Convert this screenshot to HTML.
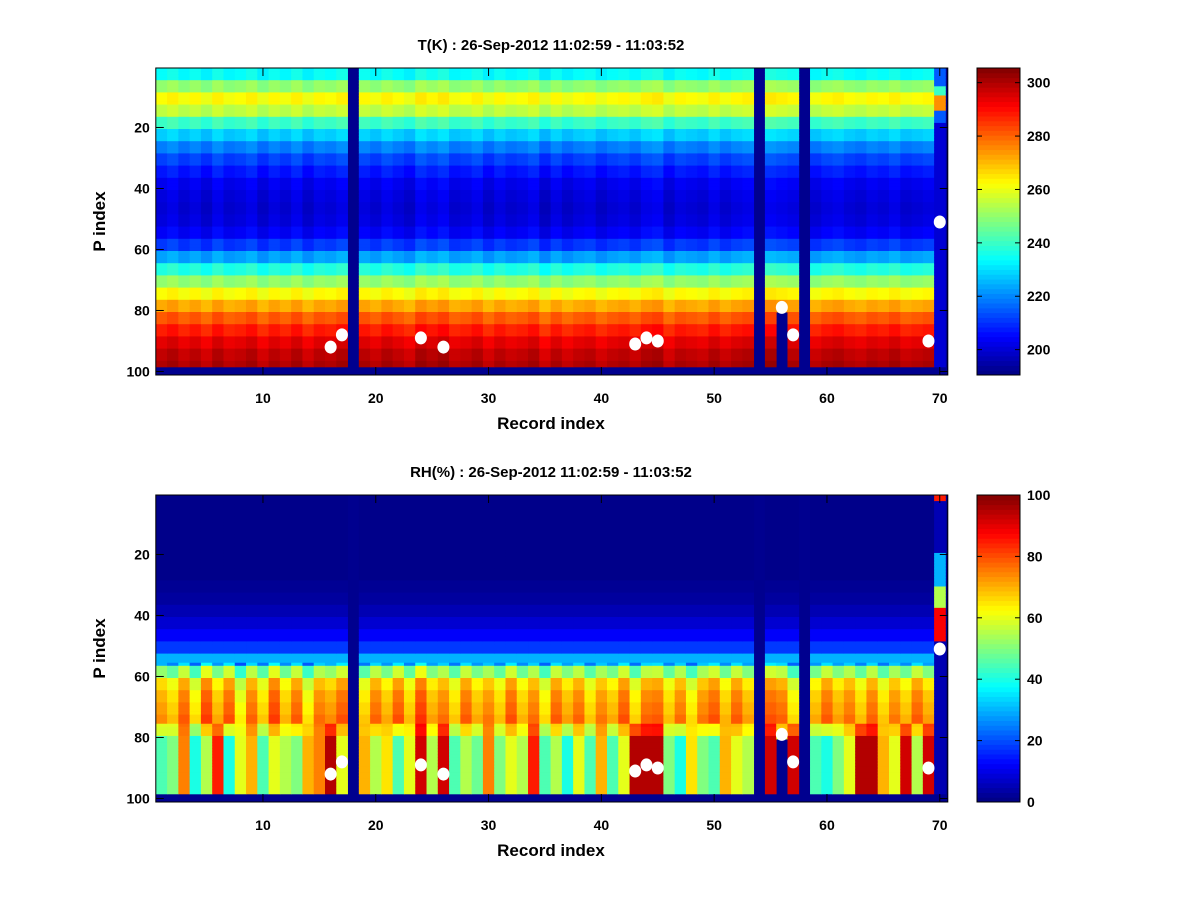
<!DOCTYPE html>
<html><head><meta charset="utf-8"><style>
body{margin:0;background:#fff;width:1200px;height:900px;overflow:hidden;font-family:"Liberation Sans",sans-serif}
svg text{font-family:"Liberation Sans",sans-serif;font-weight:bold;fill:#000}
</style></head><body>
<svg id="fig" width="1200" height="900" xmlns="http://www.w3.org/2000/svg">
<rect width="1200" height="900" fill="#fff"/>
</svg>
<script>
// ---- data ----
const records = Array.from({length:70},(_,i)=>i+1);
const missingRecords = [18,54,58];
// T profile in 25 levels of 4 P-rows each (P 1-4, 5-8, ...)
const tProfile = [234,250,262,255,240,228,219,212,207,203,201,200,201,204,211,223,237,250,262,272,281,288,294,298,300];
const tOffset = [0,2,-1,1,-2,2,-1,0,2,-2,1,-1,2,-2,1,0,2,0,1,-1,2,0,-2,3,1,3,-1,0,2,-2,1,-1,0,2,-3,1,-2,0,1,-2,0,1,-1,2,3,-2,1,0,-1,2,-1,1,2,0,3,2,1,0,-1,1,2,0,-1,1,0,2,-1,0,1,0];
// RH profile in 25 levels of 4 rows
const rhProfile = [1,1,1,1,1,1,1,2,3,5,8,12,18,30,52,66,70,72,74,72,65,60,58,58,58];
const rhMidOffset = [0,-5,5,-8,8,-3,6,-10,4,-6,8,-4,5,-9,3,0,6,0,-6,4,-3,6,-5,9,-2,3,-6,5,-3,2,-5,6,-4,3,-8,5,-2,4,-6,2,-3,6,-7,4,5,-5,3,-8,2,6,-4,5,-2,0,6,4,-8,0,-3,5,-2,3,-5,4,-6,2,-4,5,-2,0];
const rhLow = [45,50,75,40,55,85,40,60,70,45,60,55,50,70,75,95,60,0,70,55,65,45,60,92,55,92,45,55,48,75,50,60,55,85,45,55,40,60,45,70,45,60,95,95,95,50,40,65,50,45,70,60,55,92,92,60,92,0,45,40,50,60,95,95,70,60,92,55,92,5];
const markerRec = [16,17,24,26,43,44,45,56,57,69,70];
const markerP = [92,88,89,92,91,89,90,79,88,90,51];
const xTicks = [10,20,30,40,50,60,70];
const yTicks = [20,40,60,80,100];
const tCbTicks = [200,220,240,260,280,300];
const rhCbTicks = [0,20,40,60,80,100];

const NS="http://www.w3.org/2000/svg";
const svg=document.getElementById('fig');
function mk(tag,attrs,parent){const e=document.createElementNS(NS,tag);for(const k in attrs)e.setAttribute(k,attrs[k]);(parent||svg).appendChild(e);return e;}
function jet(v){v=Math.max(0,Math.min(1,v));
 const r=Math.max(0,Math.min(1,Math.min(4*v-1.5,-4*v+4.5)));
 const g=Math.max(0,Math.min(1,Math.min(4*v-0.5,-4*v+3.5)));
 const b=Math.max(0,Math.min(1,Math.min(4*v+0.5,-4*v+2.5)));
 return `rgb(${Math.round(r*255)},${Math.round(g*255)},${Math.round(b*255)})`;}
const X0=155.8,XS=11.28;
function xs(r){return X0+(r-1)*XS;}
function tVal(r,p){
 if(p>=99||missingRecords.includes(r))return null;
 if(r===56&&p>=81)return null;
 if(r===70){return p<=6?215:(p<=14?(p>=10?275:240):(p<=18?215:200));}
 return tProfile[Math.floor((p-1)/4)]+tOffset[r-1];}
function rhVal(r,p){
 if(p>=99||missingRecords.includes(r))return null;
 if(r===56&&p>=81)return null;
 if(r===70){if(p>=20&&p<=30)return 30;if(p>=31&&p<=37)return 55;if(p>=38&&p<=48)return 88;if(p<=2)return 85;return 5;}
 let base=rhProfile[Math.floor((p-1)/4)];
 if(p>=56&&p<=79)base+=rhMidOffset[r-1];
 if(p>=80)base=rhLow[r-1];
 else if(p>=76)base=(base+rhLow[r-1])/2;
 return base;}
function panel(name,top,title,vfn,vmin,vmax,cbTicks){
 const Y0=top,YS=3.05,H=307;
 const g=mk('g',{});  
 mk('rect',{x:X0,y:Y0,width:792,height:H,fill:'#00008f'},g);
 function ys(p){return Y0+(p-1)*YS;}
 for(const r of records){for(let p=1;p<=100;p++){const v=vfn(r,p);if(v===null)continue;
  const c=mk('rect',{x:xs(r).toFixed(2),y:ys(p).toFixed(2),width:(XS+0.4).toFixed(2),height:(YS+0.4).toFixed(2),fill:jet((v-vmin)/(vmax-vmin))},g);
  
  }}
 markerRec.forEach((r,i)=>{const m=mk('ellipse',{cx:xs(r)+XS/2,cy:ys(markerP[i])+YS/2,rx:6,ry:6.5,fill:'#fff'});
  
  });
 const ax=mk('rect',{x:X0,y:Y0,width:792,height:H,fill:'none',stroke:'#000','stroke-width':1});
 
 for(const t of xTicks){const x=xs(t)+XS/2;mk('line',{x1:x,x2:x,y1:Y0,y2:Y0+8,stroke:'#000'});mk('line',{x1:x,x2:x,y1:Y0+H,y2:Y0+H-8,stroke:'#000'});
  const tx=mk('text',{x:x,y:Y0+H+28,'text-anchor':'middle','font-size':'14'});tx.textContent=t;
  }
 for(const t of yTicks){const y=ys(t)+YS/2;mk('line',{x1:X0,x2:X0+8,y1:y,y2:y,stroke:'#000'});mk('line',{x1:X0+792,x2:X0+784,y1:y,y2:y,stroke:'#000'});
  const tx=mk('text',{x:X0-6,y:y+5,'text-anchor':'end','font-size':'14'});tx.textContent=t;
  }
 const tt=mk('text',{x:551,y:top-18,'text-anchor':'middle','font-size':'15'});tt.textContent=title;
 
 const xl=mk('text',{x:551,y:Y0+H+54,'text-anchor':'middle','font-size':'17'});xl.textContent='Record index';
 
 const yl=mk('text',{x:0,y:0,'text-anchor':'middle','font-size':'17',transform:`translate(105,${Y0+H/2}) rotate(-90)`});yl.textContent='P index';
 
 const cb=mk('g',{});
 const CX=977,CW=43,N=64;
 for(let i=0;i<N;i++){mk('rect',{x:CX,y:(Y0+H-(i+1)*H/N).toFixed(2),width:CW,height:(H/N+0.5).toFixed(2),fill:jet((i+0.5)/N)},cb);}
 mk('rect',{x:CX,y:Y0,width:CW,height:H,fill:'none',stroke:'#000'},cb);
 for(const t of cbTicks){const y=Y0+H-(t-vmin)/(vmax-vmin)*H;
  mk('line',{x1:CX,x2:CX+5,y1:y,y2:y,stroke:'#000'},cb);mk('line',{x1:CX+CW,x2:CX+CW-5,y1:y,y2:y,stroke:'#000'},cb);
  const tx=mk('text',{x:CX+CW+7,y:y+5,'font-size':'14'},cb);tx.textContent=t;
  }
}
panel('temperature',68,'T(K) : 26-Sep-2012 11:02:59 - 11:03:52',tVal,190.5,305.5,tCbTicks);
panel('humidity',495,'RH(%) : 26-Sep-2012 11:02:59 - 11:03:52',rhVal,0,100,rhCbTicks);
</script>
</body></html>
